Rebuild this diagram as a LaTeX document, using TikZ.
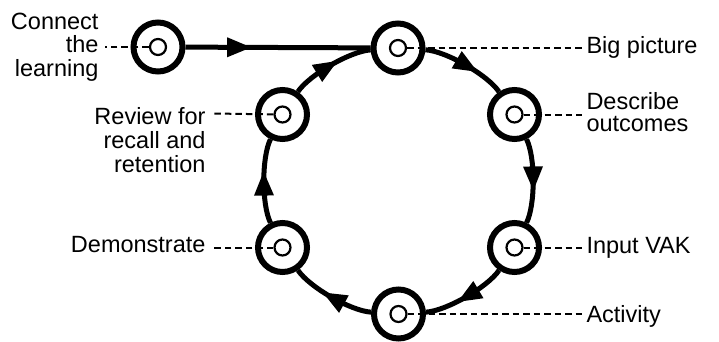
\documentclass[tikz,border=0pt]{standalone}
\usepackage{fontspec}
\setmainfont{Liberation Sans}
\usetikzlibrary{decorations.markings}
\tikzset{
  ring/.style={circle, draw, line width=6pt, minimum size=49pt, inner sep=0pt, fill=white},
  dot/.style={circle, draw, line width=2.2pt, minimum size=16pt, inner sep=0pt, fill=white},
  lab/.style={inner sep=0pt, outer sep=0pt, font=\fontsize{23.5}{23.5}\selectfont},
  flow/.style={line width=5pt, postaction={decorate},
    decoration={markings, mark=at position #1 with {\fill (-12pt,-10pt) -- (12pt,0pt) -- (-12pt,10pt) -- cycle;}}},
  arc/.style={flow=#1, bend left=26, looseness=0.62},
  dashline/.style={line width=2pt, dash pattern=on 6.5pt off 4pt}
}
\begin{document}
\begin{tikzpicture}[x=1pt,y=1pt]
\useasboundingbox (0,0) rectangle (719,341);
% ring nodes
\node[ring] (con) at (158,294) {};
\node[ring] (big) at (398,293) {};
\node[ring] (desc) at (514.5,226.5) {};
\node[ring] (inp) at (514.5,93.5) {};
\node[ring] (act) at (398.5,27) {};
\node[ring] (dem) at (282.5,93.5) {};
\node[ring] (rev) at (282.5,226.5) {};
% dots
\node[dot] (conc) at (con) {};
\node[dot] (bigc) at (big) {};
\node[dot] (descc) at (desc) {};
\node[dot] (inpc) at (inp) {};
\node[dot] (actc) at (act) {};
\node[dot] (demc) at (dem) {};
\node[dot] (revc) at (rev) {};
% labels
\node[lab, anchor=base west] (biglab) at (586.5,287.7) {Big picture};
\node[lab, anchor=base west, align=left, font=\fontsize{23.5}{22}\selectfont] (desclab) at (586.5,209.3) {Describe\\outcomes};
\node[lab, anchor=base west] (inplab) at (586.5,88) {Input VAK};
\node[lab, anchor=base west] (actlab) at (586.5,18.3) {Activity};
\node[lab, anchor=base east] (demlab) at (205.5,88.3) {Demonstrate};
\node[lab, anchor=base east, align=right, font=\fontsize{23.5}{24}\selectfont] (revlab) at (205.5,169) {Review for\\recall and\\retention};
\node[lab, anchor=base east, align=right, font=\fontsize{23.5}{23.5}\selectfont] (conlab) at (98.5,265) {Connect\\the\\learning};
% dashed leader ends
\coordinate (bigend) at (582,293);
\coordinate (descend) at (582,226.5);
\coordinate (inpend) at (582,93.5);
\coordinate (actend) at (582,27);
\coordinate (demend) at (212,93.5);
\coordinate (revend) at (212,227.5);
\coordinate (conend) at (105,294);
\draw[dashline] (bigc) -- (bigend);
\draw[dashline] (descc) -- (descend);
\draw[dashline] (inpc) -- (inpend);
\draw[dashline] (actc) -- (actend);
\draw[dashline] (demc) -- (demend);
\draw[dashline] (revc) -- (revend);
\draw[dashline] (conc) -- (conend);
% flow
\draw[flow=0.29] (con) -- (big);
\draw[arc=0.52] (big) to (desc);
\draw[arc=0.47] (desc) to (inp);
\draw[arc=0.47] (inp) to (act);
\draw[arc=0.47] (act) to (dem);
\draw[arc=0.47] (dem) to (rev);
\draw[arc=0.45] (rev) to (big);
\end{tikzpicture}
\end{document}
